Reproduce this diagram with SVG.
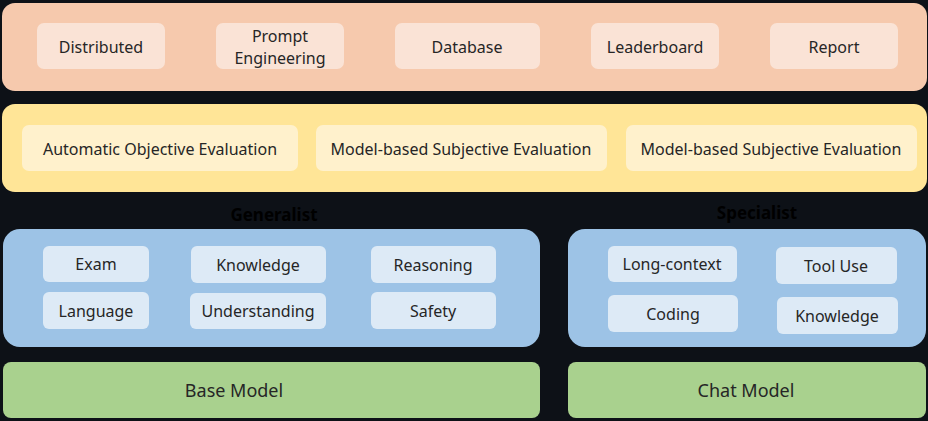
<svg xmlns="http://www.w3.org/2000/svg" width="928" height="421" viewBox="0 0 928 421">
<style>
text{font-family:"Noto Sans","Open Sans","Liberation Sans",sans-serif;fill:#262626;text-anchor:middle;dominant-baseline:central;font-size:16px}
.big{font-size:18px}
.hdr{font-size:17px;font-weight:bold;fill:#000}
.bo{fill:#f6c9ad}.io{fill:#fae3d6}
.by{fill:#ffe597}.iy{fill:#fff1cc}
.bb{fill:#9dc3e6}.ib{fill:#ddeaf6}
.bg{fill:#a9d18e}
</style>
<rect width="928" height="421" fill="#0d1117"/>
<g id="infra">
<rect class="bo" x="2" y="3" width="925" height="88" rx="13"/>
<g id="distributed"><rect class="io" x="37" y="23" width="128" height="46" rx="7"/><text x="101" y="47">Distributed</text></g>
<g id="prompt"><rect class="io" x="216" y="23" width="128" height="46" rx="7"/><text x="280" y="36">Prompt</text><text x="280" y="58">Engineering</text></g>
<g id="database"><rect class="io" x="395" y="23" width="145" height="46" rx="7"/><text x="467" y="47">Database</text></g>
<g id="leaderboard"><rect class="io" x="591" y="23" width="128" height="46" rx="7"/><text x="655" y="47">Leaderboard</text></g>
<g id="report"><rect class="io" x="770" y="23" width="128" height="46" rx="7"/><text x="834" y="47">Report</text></g>
</g>
<g id="evaluation">
<rect class="by" x="2" y="104" width="925" height="88" rx="13"/>
<g id="auto-obj"><rect class="iy" x="22" y="125" width="276" height="46" rx="7"/><text x="160" y="149">Automatic Objective Evaluation</text></g>
<g id="model-subj-1"><rect class="iy" x="316" y="125" width="291" height="46" rx="7"/><text x="461" y="149">Model-based Subjective Evaluation</text></g>
<g id="model-subj-2"><rect class="iy" x="626" y="125" width="291" height="46" rx="7"/><text x="771" y="149">Model-based Subjective Evaluation</text></g>
</g>
<g id="generalist">
<text class="hdr" x="274" y="214">Generalist</text>
<rect class="bb" x="3" y="229" width="537" height="118" rx="17"/>
<g id="exam"><rect class="ib" x="43" y="246" width="106" height="36" rx="6"/><text x="96" y="264">Exam</text></g>
<g id="knowledge-g"><rect class="ib" x="191" y="246" width="135" height="37" rx="6"/><text x="258" y="265">Knowledge</text></g>
<g id="reasoning"><rect class="ib" x="371" y="246" width="125" height="37" rx="6"/><text x="433" y="265">Reasoning</text></g>
<g id="language"><rect class="ib" x="43" y="292" width="106" height="37" rx="6"/><text x="96" y="311">Language</text></g>
<g id="understanding"><rect class="ib" x="190" y="293" width="136" height="36" rx="6"/><text x="258" y="311">Understanding</text></g>
<g id="safety"><rect class="ib" x="371" y="292" width="125" height="37" rx="6"/><text x="433" y="311">Safety</text></g>
</g>
<g id="specialist">
<text class="hdr" x="757" y="212">Specialist</text>
<rect class="bb" x="568" y="229" width="358" height="118" rx="17"/>
<g id="long-context"><rect class="ib" x="608" y="246" width="129" height="36" rx="6"/><text x="672" y="264">Long-context</text></g>
<g id="tool-use"><rect class="ib" x="776" y="247" width="121" height="37" rx="6"/><text x="836" y="266">Tool Use</text></g>
<g id="coding"><rect class="ib" x="608" y="295" width="130" height="37" rx="6"/><text x="673" y="314">Coding</text></g>
<g id="knowledge-s"><rect class="ib" x="777" y="297" width="121" height="37" rx="6"/><text x="837" y="316">Knowledge</text></g>
</g>
<g id="base-model"><rect class="bg" x="3" y="362" width="537" height="56" rx="8"/><text class="big" x="234" y="390">Base Model</text></g>
<g id="chat-model"><rect class="bg" x="568" y="362" width="358" height="56" rx="8"/><text class="big" x="746" y="390">Chat Model</text></g>
<g id="connectors"></g>
</svg>
